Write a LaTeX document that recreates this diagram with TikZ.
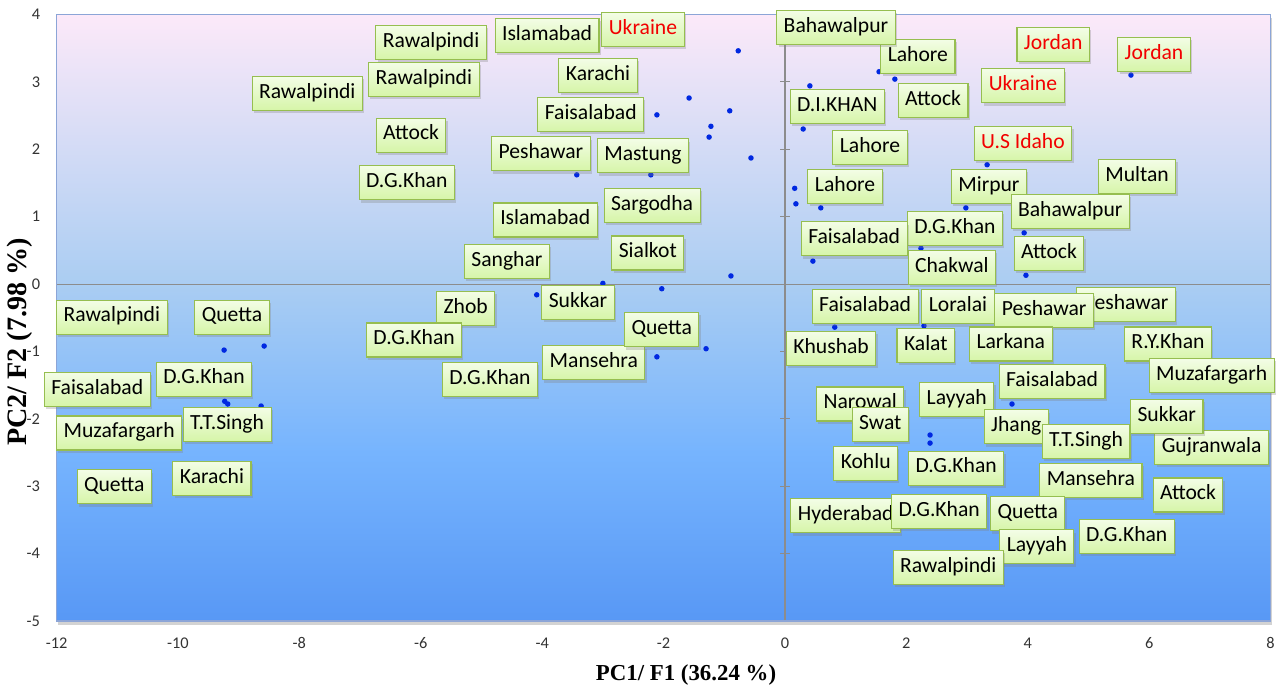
\documentclass[tikz,border=0pt]{standalone}
\usepackage{fontspec}
\setmainfont{Carlito}
\newfontfamily\titlefont{Liberation Serif}
\usetikzlibrary{shadows}

\definecolor{bgtop}{RGB}{252,233,249}
\definecolor{bgmid}{RGB}{170,205,242}
\definecolor{bglow}{RGB}{118,180,254}
\definecolor{bgbot}{RGB}{88,152,245}
\definecolor{lbltop}{RGB}{243,253,230}
\definecolor{lblbot}{RGB}{214,245,168}
\definecolor{lblline}{RGB}{150,190,80}
\definecolor{dotblue}{RGB}{0,40,225}
\definecolor{framecol}{RGB}{140,165,215}
\definecolor{axisgray}{RGB}{140,140,140}

\begin{document}
\begin{tikzpicture}[x=1.214cm, y=1.348cm,
    lbl/.style={draw=lblline, line width=0.6pt, top color=lbltop, bottom color=lblbot,
      font=\fontsize{12.3}{14}\selectfont, inner xsep=0.14cm, inner ysep=0cm,
      minimum height=0.68cm, text height=0.76em, text depth=0.2em,
      drop shadow={shadow xshift=1pt, shadow yshift=-1.5pt, opacity=0.3}},
    redlbl/.style={lbl, text=red!95!black},
    dot/.style={fill=dotblue},
    ticklbl/.style={font=\fontsize{9.3}{10}\selectfont, text=black!80}]
    \useasboundingbox (-12.932,-6.024) rectangle (8.188,4.214);

    \path[fill=white, drop shadow={shadow xshift=1pt, shadow yshift=-2pt, opacity=0.35}] (-12,-5) rectangle (8,4);
    \fill[top color=bgtop, bottom color=bgmid] (-12,0) rectangle (8,4);
    \fill[top color=bgmid, bottom color=bgbot, middle color=bglow] (-12,-5) rectangle (8,0);

    \draw[axisgray, line width=0.6pt] (-12,0) -- (8,0);
    \draw[axisgray, line width=0.6pt] (0,-5) -- (0,4);
    \foreach \t in {-5,...,4} \draw[axisgray, line width=0.6pt] (-0.08,\t) -- (0.08,\t);
    \draw[framecol, line width=0.8pt] (-12,-5) rectangle (8,4);

    \foreach \t in {-12,-10,...,8} \node[ticklbl] (xt\t) at (\t,-5.33) {\t};
    \foreach \t in {-5,...,4} \node[ticklbl, anchor=east] (yt\t) at (-12.17,\t) {\t};

    \node[font=\titlefont\bfseries\fontsize{13}{15}\selectfont] (xtitle) at (-1.63,-5.80) {PC1/ F1 (36.24 \%)};
    \node[font=\titlefont\bfseries\fontsize{16}{18}\selectfont, rotate=90] (ytitle) at (-12.60,-0.86) {PC2/ F2 (7.98 \%)};

    \foreach \px/\py in {-0.77/3.46, -1.58/2.76, -2.11/2.51, -0.91/2.57, -1.22/2.34, -1.25/2.18,
        -0.56/1.87, -3.43/1.62, -2.21/1.62, 0.41/2.94, 0.30/2.30, 0.16/1.42, 0.18/1.19,
        0.59/1.13, 1.55/3.15, 1.81/3.04, 5.70/3.10, 3.33/1.77, 2.98/1.13, 3.94/0.76,
        2.24/0.53, -9.24/-0.98, -8.58/-0.92, -9.23/-1.74, -9.18/-1.78, -8.63/-1.81,
        -3.00/0.01, -4.09/-0.16, -2.03/-0.07, -0.89/0.12, -1.30/-0.96, -2.11/-1.08,
        0.46/0.34, 0.82/-0.64, 3.97/0.13, 2.29/-0.62, 3.74/-1.78, 2.39/-2.24, 2.39/-2.36}
      \fill[dot] (\px,\py) circle (0.055cm);

    \node[lbl] (rawalpindiA) at (-5.83,3.58) {Rawalpindi};
    \node[lbl] (rawalpindiB) at (-5.95,3.04) {Rawalpindi};
    \node[lbl] (rawalpindiC) at (-7.87,2.83) {Rawalpindi};
    \node[lbl] (attockA) at (-6.16,2.21) {Attock};
    \node[lbl] (dgkhanA) at (-6.23,1.50) {D.G.Khan};
    \node[lbl] (islamabadA) at (-3.92,3.69) {Islamabad};
    \node[redlbl] (ukraineA) at (-2.34,3.78) {Ukraine};
    \node[lbl] (karachiA) at (-3.08,3.09) {Karachi};
    \node[lbl] (faisalabadA) at (-3.20,2.51) {Faisalabad};
    \node[lbl] (peshawarA) at (-4.02,1.93) {Peshawar};
    \node[lbl] (mastung) at (-2.34,1.90) {Mastung};
    \node[lbl] (sargodha) at (-2.19,1.17) {Sargodha};
    \node[lbl] (islamabadB) at (-3.95,0.95) {Islamabad};
    \node[lbl] (sanghar) at (-4.58,0.33) {Sanghar};
    \node[lbl] (sialkot) at (-2.26,0.46) {Sialkot};

    \node[lbl] (lahoreA) at (2.19,3.38) {Lahore};
    \node[lbl] (bahawalpurA) at (0.84,3.81) {Bahawalpur};
    \node[lbl] (attockB) at (2.44,2.72) {Attock};
    \node[redlbl] (jordanA) at (4.42,3.55) {Jordan};
    \node[redlbl] (jordanB) at (6.08,3.41) {Jordan};
    \node[redlbl] (ukraineB) at (3.92,2.94) {Ukraine};
    \node[redlbl] (idaho) at (3.92,2.08) {U.S Idaho};
    \node[lbl] (dikhan) at (0.86,2.63) {D.I.KHAN};
    \node[lbl] (lahoreB) at (1.40,2.03) {Lahore};
    \node[lbl] (lahoreC) at (0.99,1.45) {Lahore};
    \node[lbl] (multan) at (5.80,1.59) {Multan};
    \node[lbl] (mirpur) at (3.36,1.45) {Mirpur};
    \node[lbl] (bahawalpurB) at (4.70,1.08) {Bahawalpur};
    \node[lbl] (dgkhanB) at (2.80,0.83) {D.G.Khan};
    \node[lbl] (faisalabadB) at (1.14,0.67) {Faisalabad};
    \node[lbl] (attockC) at (4.35,0.45) {Attock};
    \node[lbl] (chakwal) at (2.75,0.24) {Chakwal};

    \node[lbl] (rawalpindiD) at (-11.09,-0.49) {Rawalpindi};
    \node[lbl] (quettaA) at (-9.11,-0.49) {Quetta};
    \node[lbl] (faisalabadC) at (-11.33,-1.56) {Faisalabad};
    \node[lbl] (dgkhanC) at (-9.57,-1.41) {D.G.Khan};
    \node[lbl] (muzafargarhA) at (-10.97,-2.21) {Muzafargarh};
    \node[lbl] (ttsinghA) at (-9.19,-2.08) {T.T.Singh};
    \node[lbl] (karachiB) at (-9.44,-2.88) {Karachi};
    \node[lbl] (quettaB) at (-11.05,-3.01) {Quetta};
    \node[lbl] (zhob) at (-5.26,-0.36) {Zhob};
    \node[lbl] (dgkhanD) at (-6.11,-0.83) {D.G.Khan};
    \node[lbl] (sukkarA) at (-3.41,-0.27) {Sukkar};
    \node[lbl] (mansehraA) at (-3.15,-1.17) {Mansehra};
    \node[lbl] (quettaC) at (-2.03,-0.68) {Quetta};
    \node[lbl] (dgkhanE) at (-4.86,-1.42) {D.G.Khan};

    \node[lbl] (faisalabadD) at (1.32,-0.33) {Faisalabad};
    \node[lbl] (loralai) at (2.85,-0.34) {Loralai};
    \node[lbl] (peshawarB) at (5.62,-0.31) {Peshawar};
    \node[lbl] (peshawarC) at (4.27,-0.39) {Peshawar};
    \node[lbl] (rykhan) at (6.31,-0.89) {R.Y.Khan};
    \node[lbl] (muzafargarhB) at (7.03,-1.36) {Muzafargarh};
    \node[lbl] (kalat) at (2.32,-0.91) {Kalat};
    \node[lbl] (larkana) at (3.72,-0.89) {Larkana};
    \node[lbl] (khushab) at (0.76,-0.96) {Khushab};
    \node[lbl] (faisalabadE) at (4.40,-1.44) {Faisalabad};
    \node[lbl] (layyahA) at (2.83,-1.71) {Layyah};
    \node[lbl] (narowal) at (1.24,-1.78) {Narowal};
    \node[lbl] (swat) at (1.57,-2.08) {Swat};
    \node[lbl] (jhang) at (3.81,-2.12) {Jhang};
    \node[lbl] (ttsinghB) at (4.96,-2.34) {T.T.Singh};
    \node[lbl] (gujranwala) at (7.03,-2.43) {Gujranwala};
    \node[lbl] (sukkarB) at (6.29,-1.97) {Sukkar};
    \node[lbl] (kohlu) at (1.33,-2.66) {Kohlu};
    \node[lbl] (dgkhanF) at (2.82,-2.73) {D.G.Khan};
    \node[lbl] (mansehraB) at (5.04,-2.92) {Mansehra};
    \node[lbl] (attockD) at (6.64,-3.13) {Attock};
    \node[lbl] (hyderabad) at (1.00,-3.44) {Hyderabad};
    \node[lbl] (dgkhanG) at (2.54,-3.38) {D.G.Khan};
    \node[lbl] (quettaD) at (4.00,-3.41) {Quetta};
    \node[lbl] (dgkhanH) at (5.63,-3.75) {D.G.Khan};
    \node[lbl] (layyahB) at (4.15,-3.90) {Layyah};
    \node[lbl] (rawalpindiE) at (2.69,-4.20) {Rawalpindi};
\end{tikzpicture}
\end{document}
